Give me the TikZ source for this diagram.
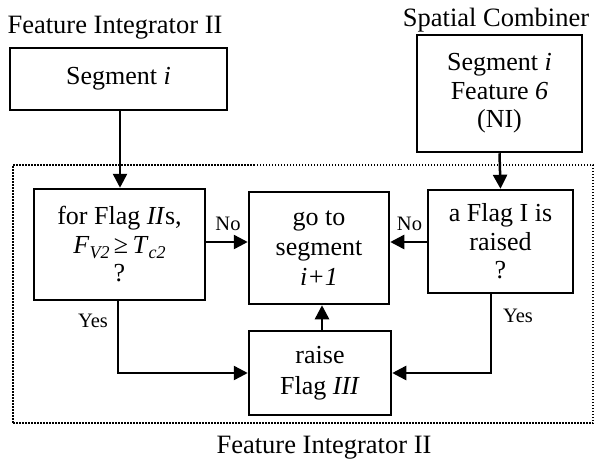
\documentclass[tikz,border=0pt]{standalone}
\usepackage{fontspec}
\setmainfont{Liberation Serif}
\usetikzlibrary{arrows.meta}
\newcommand{\subtxt}[1]{\raisebox{-5pt}{\fontsize{18}{18}\selectfont\textit{#1}}}
\begin{document}
\begin{tikzpicture}[x=1pt,y=-1pt,
  box/.style={draw=black,line width=2.5pt,rectangle,align=center,inner sep=0pt,
    font=\fontsize{26}{28.5}\selectfont},
  lbl/.style={font=\fontsize{26.5}{28}\selectfont,anchor=base,inner sep=0pt},
  small/.style={font=\fontsize{20.5}{22}\selectfont,anchor=base,inner sep=0pt},
  arr/.style={line width=2.5pt,-{Triangle[length=14pt,width=14pt]}},
  ln/.style={line width=2.5pt}]
\useasboundingbox (0,0) rectangle (602,466);
\fill[white] (0,0) rectangle (602,466);
% dotted frame
\node[draw=black,line width=2pt,dash pattern=on 1.5pt off 1.5pt,rectangle,inner sep=0pt,
  minimum width=580pt,minimum height=258pt] (frame) at (303,294) {};
% labels
\node[lbl] (lblTL) at (115,33) {Feature Integrator II};
\node[lbl] (lblTR) at (496,26) {Spatial Combiner};
\node[lbl] (lblB) at (324,453) {Feature Integrator II};
% boxes
\node[box,minimum width=217pt,minimum height=62pt] (segA) at (118.5,79) {Segment \textit{i}};
\node[box,minimum width=165pt,minimum height=117pt] (segB) at (499.5,93.5) {Segment \textit{i}\\Feature \textit{6}\\(NI)};
\node[box,minimum width=171pt,minimum height=111pt] (dec1) at (119.5,244.5) {for Flag \textit{II}s,\\\textit{F}\subtxt{V2}\,≥\,\textit{T}\subtxt{c2}\\?};
\node[box,minimum width=140pt,minimum height=112pt,font=\fontsize{26}{30}\selectfont] (goto) at (319,248) {go to\\segment\\\textit{i+1}};
\node[box,minimum width=145pt,minimum height=103pt] (dec2) at (500.5,241.5) {a Flag I is\\raised\\?};
\node[box,minimum width=142pt,minimum height=84pt,font=\fontsize{26}{31}\selectfont] (raise) at (320,373) {raise\\Flag \textit{III}};
% connectors
\draw[arr] (segA.south -| 120,0) -- (120,0 |- dec1.north);
\draw[arr] (segB.south) -- (dec2.north);
\draw[arr] (dec1.east |- 0,242) -- (goto.west |- 0,242);
\draw[arr] (dec2.west |- 0,242) -- (goto.east |- 0,242);
\draw[arr] (raise.north -| 322,0) -- (322,0 |- goto.south);
\coordinate (yl) at (118,0);
\coordinate (yr) at (491,0);
\draw[arr] (dec1.south -| yl) |- (raise.west);
\draw[arr] (dec2.south -| yr) |- (raise.east);
% small labels
\node[small] (noL) at (228,230) {No};
\node[small] (noR) at (409.5,230) {No};
\node[small] (yesL) at (93,327) {Yes};
\node[small] (yesR) at (518,322) {Yes};
\end{tikzpicture}
\end{document}
